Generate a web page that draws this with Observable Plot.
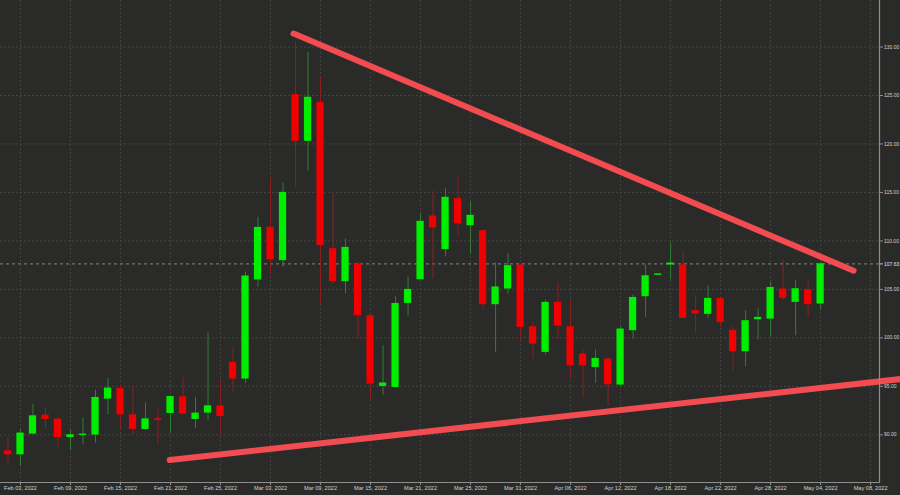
<!DOCTYPE html>
<html>
<head>
<meta charset="utf-8">
<script src="https://cdn.jsdelivr.net/npm/d3@7"></script>
<script src="https://cdn.jsdelivr.net/npm/@observablehq/plot@0.6"></script>
<style>
  html, body { margin: 0; padding: 0; background: #2a2b29; }
  #chart { width: 900px; height: 495px; }
</style>
</head>
<body>
<div id="chart"></div>
<script>
// Trading days (one candle each)
const dates = [
  "Feb 02","Feb 03","Feb 04","Feb 07","Feb 08","Feb 09","Feb 10","Feb 11","Feb 14","Feb 15",
  "Feb 16","Feb 17","Feb 18","Feb 21","Feb 22","Feb 23","Feb 24","Feb 25","Feb 28","Mar 01",
  "Mar 02","Mar 03","Mar 04","Mar 07","Mar 08","Mar 09","Mar 10","Mar 11","Mar 14","Mar 15",
  "Mar 16","Mar 17","Mar 18","Mar 21","Mar 22","Mar 23","Mar 24","Mar 25","Mar 28","Mar 29",
  "Mar 30","Mar 31","Apr 01","Apr 04","Apr 05","Apr 06","Apr 07","Apr 08","Apr 11","Apr 12",
  "Apr 13","Apr 14","Apr 15","Apr 18","Apr 19","Apr 20","Apr 21","Apr 22","Apr 25","Apr 26",
  "Apr 27","Apr 28","Apr 29","May 02","May 03","May 04"
];
const open = [
  88.35,87.94,90.07,92.03,91.62,89.72,89.93,89.97,93.68,94.78,
  92.06,90.55,91.65,92.20,93.92,91.58,92.24,92.99,97.46,95.75,
  105.97,111.40,107.96,125.09,120.27,124.30,109.20,105.79,107.62,102.28,
  94.99,94.88,103.55,105.99,112.57,109.10,114.36,111.57,111.06,103.42,
  105.04,107.52,101.15,98.50,103.66,101.15,98.33,96.95,97.81,95.13,
  100.74,104.24,106.45,107.52,107.52,102.80,102.42,104.07,100.77,98.57,
  101.87,101.94,105.04,103.66,104.97,103.49
];
const high = [
  89.72,90.50,93.17,92.71,91.70,90.48,91.72,94.61,95.81,95.16,
  94.95,93.30,92.61,94.00,95.91,93.85,100.50,95.65,99.01,106.75,
  112.43,116.50,115.98,130.49,129.47,126.88,114.85,110.20,107.79,102.46,
  99.19,104.25,106.24,112.78,115.11,115.36,116.63,114.05,111.10,107.72,
  108.71,107.60,101.59,103.90,105.62,103.94,98.85,98.74,97.98,101.15,
  104.45,107.52,106.60,109.79,108.82,104.35,105.38,104.10,101.15,102.80,
  102.97,105.72,107.96,105.90,105.79,107.79
];
const low = [
  87.04,86.73,90.00,90.65,88.52,88.35,88.97,89.14,92.06,90.65,
  89.97,90.48,89.04,90.18,92.06,90.65,91.45,90.07,94.37,95.29,
  105.20,106.59,107.27,115.53,117.18,103.49,105.55,104.52,99.88,93.51,
  94.03,94.88,102.28,105.99,106.07,108.40,110.54,108.65,102.87,98.50,
  104.52,99.63,97.81,98.26,99.88,95.75,93.85,95.30,92.99,94.88,
  99.88,102.10,106.45,105.97,102.00,100.45,102.04,101.08,96.61,97.02,
  99.78,100.12,103.83,100.22,102.11,102.87
];
const close = [
  87.94,90.18,91.96,91.58,89.72,90.00,90.07,93.85,94.82,92.06,
  90.55,91.65,91.48,93.95,92.14,92.24,92.99,91.89,95.75,106.38,
  111.40,108.03,115.01,120.27,124.82,109.51,105.79,109.33,102.28,95.23,
  95.34,103.55,105.00,112.02,111.34,114.50,111.75,112.64,103.42,105.25,
  107.45,101.08,99.36,103.66,101.22,97.12,97.12,97.88,95.16,100.91,
  104.17,106.41,106.60,107.72,102.00,102.46,104.07,101.59,98.57,101.77,
  102.11,105.20,104.07,105.07,103.42,107.63
];
// X-axis tick labels (every 4th trading day starting at Feb 03)
const tickLabels = [
  "Feb 03, 2022","Feb 09, 2022","Feb 15, 2022","Feb 21, 2022","Feb 25, 2022","Mar 03, 2022",
  "Mar 09, 2022","Mar 15, 2022","Mar 21, 2022","Mar 25, 2022","Mar 31, 2022","Apr 06, 2022",
  "Apr 12, 2022","Apr 18, 2022","Apr 22, 2022","Apr 28, 2022","May 04, 2022","May 08, 2022"
];
const yTicks = [90, 95, 100, 105, 110, 115, 120, 125, 130];
const lastPrice = 107.63;
// Trend lines (in trading-day index / price units)
const trendStartIdx = [22.84, 12.94];
const trendStartPrice = [131.39, 87.39];
const trendEndIdx = [67.64, 71.4];
const trendEndPrice = [106.93, 95.75];

const candles = dates.map((d, i) => ({
  i, date: d, open: open[i], high: high[i], low: low[i], close: close[i],
  up: close[i] >= open[i]
}));
const tickIdx = tickLabels.map((_, k) => 1 + 4 * k);
const labelAt = new Map(tickIdx.map((t, k) => [t, tickLabels[k]]));
const trends = trendStartIdx.map((_, k) => ({
  x1: trendStartIdx[k], y1: trendStartPrice[k], x2: trendEndIdx[k], y2: trendEndPrice[k]
}));

const GREEN = "#00ee00", RED = "#f00000";
const WICK_G = "#2f7f2f", WICK_R = "#8c1f1f";
const GRID = "#434442";

const chart = Plot.plot({
  width: 900,
  height: 495,
  marginLeft: 0,
  marginRight: 21,
  marginTop: 0,
  marginBottom: 13,
  style: {
    background: "#2a2b29",
    color: "#d2d2d2",
    fontFamily: "Liberation Sans, Arial, sans-serif",
    fontSize: "5.6px",
    overflow: "visible"
  },
  x: { type: "linear", domain: [-0.6, 69.71], axis: null },
  y: { domain: [85.08, 134.8], axis: null },
  color: { type: "identity" },
  marks: [
    Plot.gridY(yTicks, { stroke: GRID, strokeOpacity: 1, strokeDasharray: "2,2" }),
    Plot.gridX(tickIdx, { stroke: GRID, strokeOpacity: 1, strokeDasharray: "2,2" }),
    Plot.ruleY([lastPrice], { stroke: "#9a9a9a", strokeWidth: 0.8, strokeDasharray: "3,3" }),
    Plot.ruleX(candles, { x: "i", y1: "low", y2: "high", stroke: d => d.up ? WICK_G : WICK_R, strokeWidth: 1 }),
    Plot.rect(candles, {
      x1: d => d.i - 0.29, x2: d => d.i + 0.29,
      y1: "open", y2: "close",
      fill: d => d.up ? GREEN : RED
    }),
    Plot.link(trends, {
      x1: "x1", y1: "y1", x2: "x2", y2: "y2",
      stroke: "#f24b50", strokeWidth: 6, strokeLinecap: "round"
    }),
    Plot.frame({ anchor: "right", stroke: "#8e8e8e", strokeWidth: 1.2 }),
    Plot.frame({ anchor: "bottom", stroke: "#8e8e8e", strokeWidth: 1.2 }),
    Plot.axisY(yTicks, {
      anchor: "right", tickSize: 3, tickPadding: 1.5, fontSize: 5,
      stroke: "#8e8e8e", fill: "#d2d2d2",
      tickFormat: d => d.toFixed(2)
    }),
    Plot.axisY([lastPrice], {
      anchor: "right", tickSize: 3, tickPadding: 1.5, fontSize: 5,
      stroke: "#bdbdbd", fill: "#e0e0e0",
      tickFormat: d => d.toFixed(2)
    }),
    Plot.axisX(tickIdx, {
      anchor: "bottom", tickSize: 3, tickPadding: 1, fontSize: 5.6,
      stroke: "#8e8e8e", fill: "#d2d2d2",
      tickFormat: d => labelAt.get(d)
    })
  ]
});
document.getElementById("chart").appendChild(chart);
</script>
</body>
</html>
